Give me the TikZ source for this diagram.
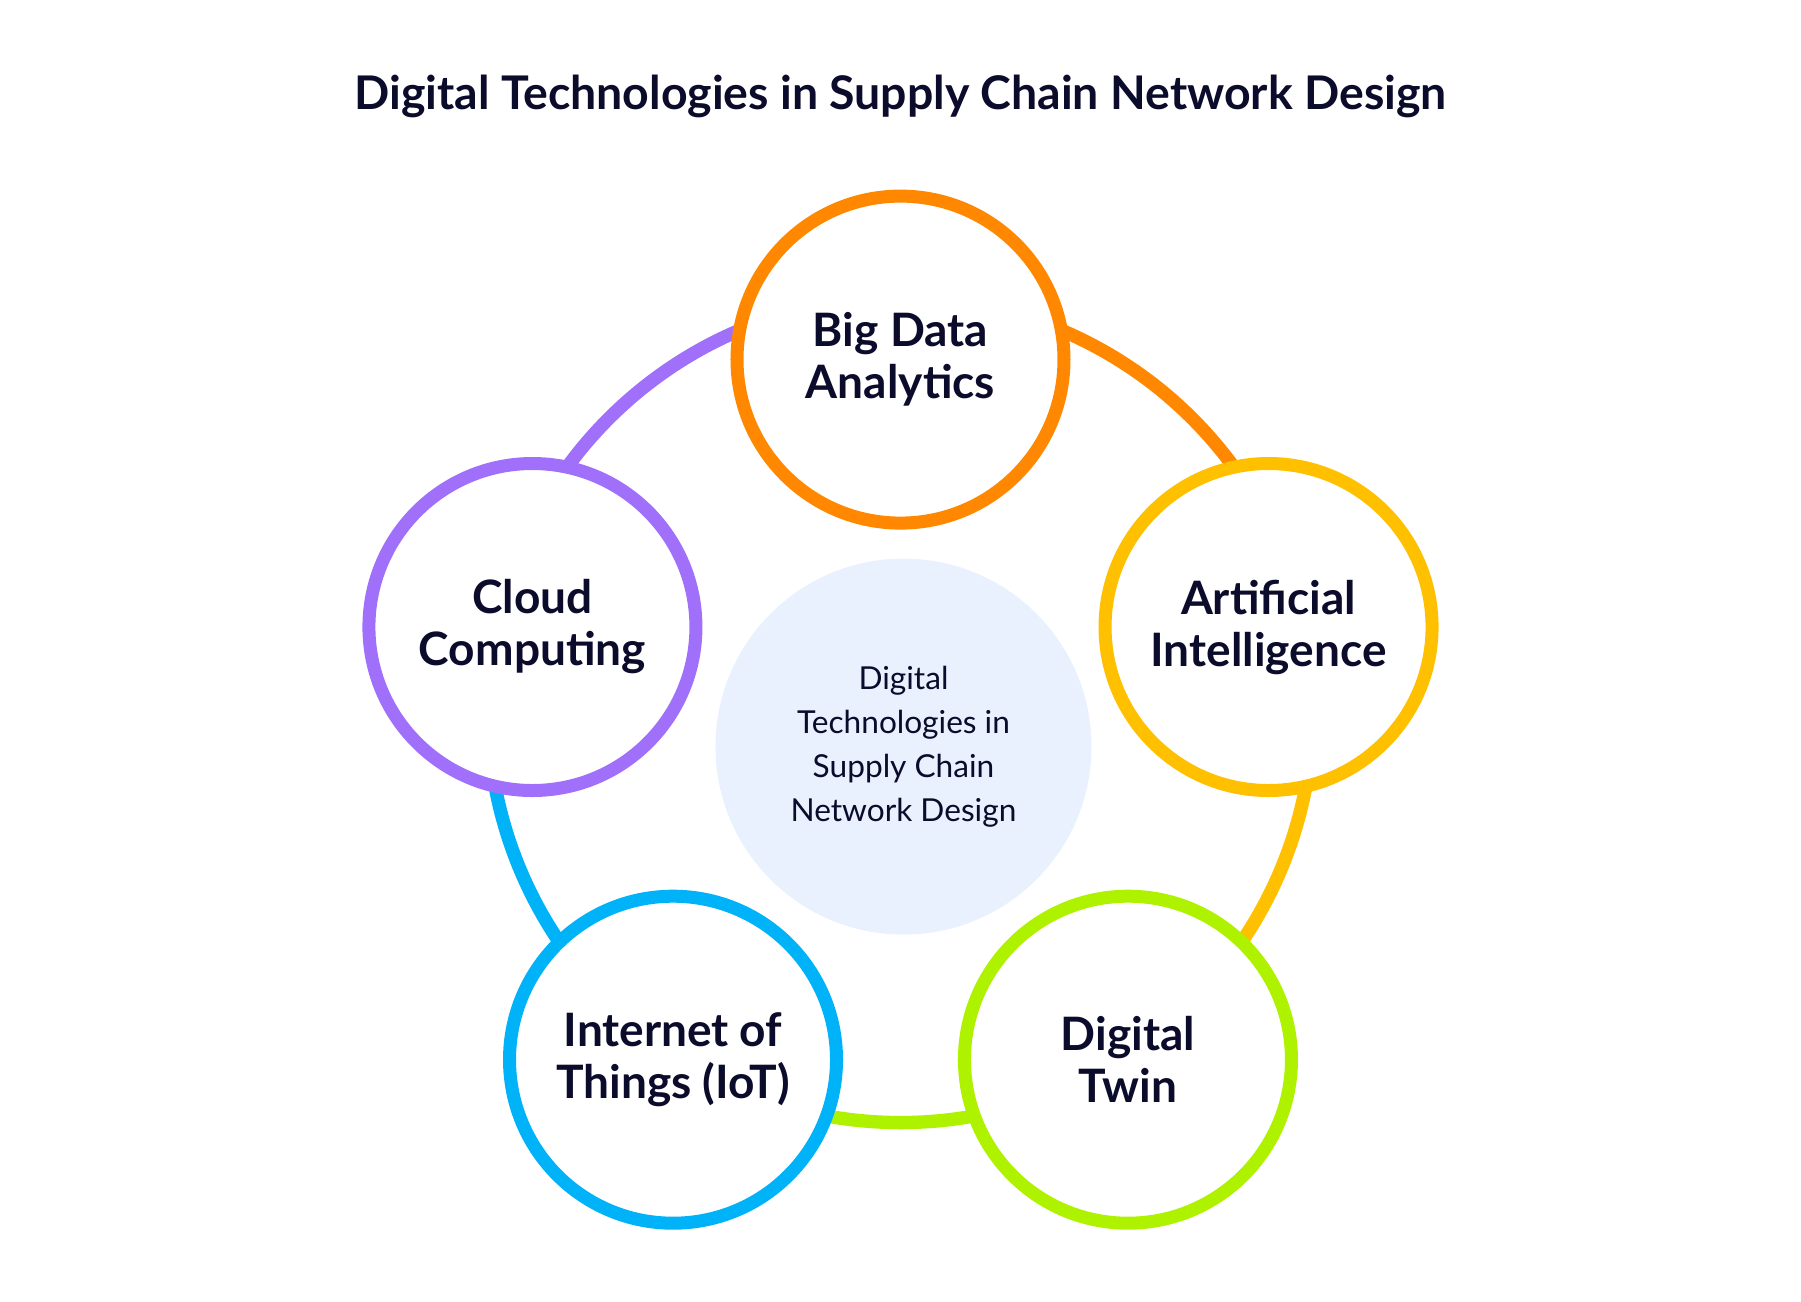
\documentclass[tikz,border=0pt]{standalone}
\usepackage{fontspec}
\setmainfont{Lato}
\usepackage{xcolor}
\usepackage{tikz}
\usetikzlibrary{backgrounds}

\definecolor{ink}{HTML}{0B0B2B}
\definecolor{bigorange}{HTML}{FF8800}
\definecolor{aiyellow}{HTML}{FFC000}
\definecolor{twingreen}{HTML}{AEF200}
\definecolor{iotblue}{HTML}{00B2F8}
\definecolor{cloudpurple}{HTML}{A070FA}
\definecolor{hubfill}{HTML}{E8F1FD}

\tikzset{
  tech/.style={circle, draw, line width=3.7pt, fill=white, minimum size=3.27cm, inner sep=0pt,
    align=center, text=ink, font=\fontsize{13.1}{14.8}\selectfont\bfseries},
  ring/.style={line width=3.8pt}
}

\begin{document}
\begin{tikzpicture}
\useasboundingbox (-9.005,-5.544) rectangle (9.005,7.466);
\node[text=ink, font=\fontsize{13.2}{16}\selectfont\bfseries] (title) at (0,6.50) {Digital Technologies in Supply Chain Network Design};
\node[circle, fill=hubfill, minimum size=3.76cm, inner sep=0pt, align=center, text=ink,
  font=\fontsize{9}{12.5}\selectfont] (hub) at (0.03,0) {Digital\\Technologies in\\Supply Chain\\Network Design};
\node[tech, draw=bigorange] (bigdata) at (90:3.87) {Big Data\\Analytics};
\node[tech, draw=aiyellow] (ai) at (18:3.87) {Artificial\\Intelligence};
\node[tech, draw=twingreen] (twin) at (-54:3.87) {Digital\\Twin};
\node[tech, draw=iotblue] (iot) at (-126:3.87) {Internet of\\Things (IoT)};
\node[tech, draw=cloudpurple] (cloud) at (162:3.87) {Cloud\\Computing};
\coordinate (ringc) at (0,0.365);
\begin{pgfonlayer}{background}
\draw[ring, bigorange] (ringc) ++(90:4.125) arc[start angle=90, end angle=12.7, radius=4.125];
\draw[ring, aiyellow] (ringc) ++(12.7:4.125) arc[start angle=12.7, end angle=-56.9, radius=4.125];
\draw[ring, twingreen] (ringc) ++(-56.9:4.125) arc[start angle=-56.9, end angle=-123.1, radius=4.125];
\draw[ring, iotblue] (ringc) ++(-123.1:4.125) arc[start angle=-123.1, end angle=-192.7, radius=4.125];
\draw[ring, cloudpurple] (ringc) ++(167.3:4.125) arc[start angle=167.3, end angle=90, radius=4.125];
\end{pgfonlayer}
\end{tikzpicture}
\end{document}
